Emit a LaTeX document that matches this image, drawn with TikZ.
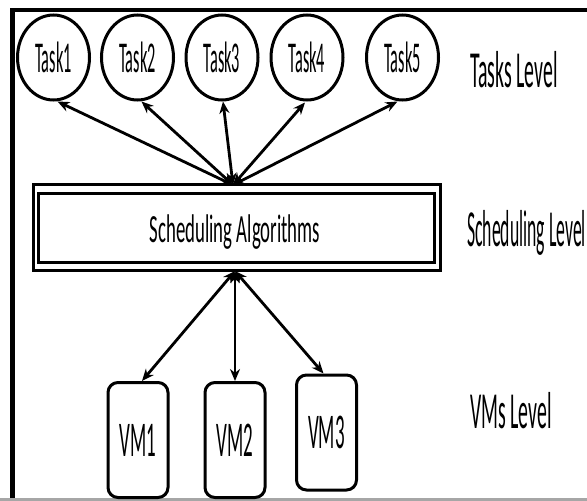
\documentclass[tikz,border=0pt]{standalone}
\usepackage{fontspec}
\setmainfont{Carlito}
\usetikzlibrary{shapes.geometric,arrows.meta}
\newcommand{\narrowtext}[2][0.38]{\scalebox{#1}[1]{#2}}
\tikzset{
  taskbox/.style={ellipse, draw, line width=3pt, minimum width=72pt, minimum height=85pt, inner sep=0pt,
    font=\fontsize{44}{44}\selectfont},
  vmbox/.style={rectangle, draw, rounded corners=10pt, line width=3pt, minimum width=60pt, minimum height=115pt,
    inner sep=0pt, font=\fontsize{50}{50}\selectfont},
  levellabel/.style={anchor=base west, inner sep=0pt, font=\fontsize{52}{52}\selectfont},
  link/.style={{Stealth[length=12pt,width=10pt]}-{Stealth[length=12pt,width=10pt]}, line width=2.8pt},
}
\begin{document}
\begin{tikzpicture}[x=1pt,y=-1pt]
\useasboundingbox (0,0) rectangle (587,501);
\fill[white] (0,0) rectangle (587,501);
% frame
\draw[line width=5pt] (12.5,8) -- (12.5,501);
\draw[line width=4pt] (10,10) -- (587,10);
\draw[gray!70, line width=2.5pt] (0,499.5) -- (587,499.5);

% tasks
\node[taskbox] (t1) at (53.5,57.5) {\narrowtext[0.37]{Task1}};
\node[taskbox] (t2) at (137.5,57.5) {\narrowtext[0.37]{Task2}};
\node[taskbox] (t3) at (222,57.5) {\narrowtext[0.37]{Task3}};
\node[taskbox] (t4) at (307,57.5) {\narrowtext[0.37]{Task4}};
\node[taskbox] (t5) at (402.5,57.5) {\narrowtext[0.37]{Task5}};

% scheduling box (double border)
\draw[line width=3pt] (33,184) rectangle (440,270);
\draw[line width=3pt] (38.5,193) rectangle (434,262);
\node[anchor=base, inner sep=0pt, font=\fontsize{40}{40}\selectfont] (sched) at (235,242) {\narrowtext[0.47]{Scheduling Algorithms}};
\coordinate (stop) at (233,185);
\coordinate (sbot) at (235,271);

% VMs
\node[vmbox] (v1) at (138,440) {\narrowtext{VM1}};
\node[vmbox] (v2) at (235,440) {\narrowtext{VM2}};
\node[vmbox] (v3) at (326.5,432.5) {\narrowtext{VM3}};

% level labels
\node[levellabel] (l1) at (470,87) {\narrowtext{Tasks Level}};
\node[levellabel] (l2) at (467,246) {\narrowtext[0.34]{Scheduling Level}};
\node[levellabel] (l3) at (470,428) {\narrowtext{VMs Level}};

% connectors
\draw[link] (stop) -- ([xshift=4pt]t1.south);
\draw[link] (stop) -- ([xshift=4pt]t2.south);
\draw[link] (stop) -- ([xshift=1pt]t3.south);
\draw[link] (stop) -- ([xshift=-2pt,yshift=-1pt]t4.south);
\draw[link] (stop) -- ([xshift=-5pt]t5.south);
\draw[link] (sbot) -- ([xshift=4pt]v1.north);
\draw[link] (sbot) -- (v2.north);
\draw[link] (sbot) -- ([xshift=-3pt]v3.north);
\end{tikzpicture}
\end{document}
